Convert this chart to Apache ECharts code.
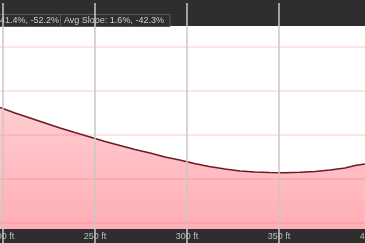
<!DOCTYPE html>
<html><head><meta charset="utf-8">
<script src="https://cdn.jsdelivr.net/npm/echarts@6/dist/echarts.min.js"></script>
<style>html,body{margin:0;padding:0;background:#fff}#c{width:365px;height:243px}</style>
</head><body><div id="c"></div>
<script>
const distances = [198.4,206.5,214.7,222.8,231,239,247.3,255.4,263.6,271.7,279.9,288,296,304,312,320.7,328.8,337,345,353,361.4,369.6,377.7,385.9,391.3,396.7];
const elevations = [159.5,154,149,144,139,134.5,130,125.5,121.5,117.5,114,110,107,103.5,100.5,98,96,95,94.5,94.3,94.7,95.5,97,99,101.5,103];
const xTicks = [150,200,250,300,350,400];
const gradeText = '41.4%, -52.2%';
const slopeText = 'Avg Slope: 1.6%, -42.3%';

const chart = echarts.init(document.getElementById('c'), null, {renderer:'canvas'});
chart.setOption({
  animation:false,
  grid:{left:-89, right:-6, top:3, bottom:-24, containLabel:false, outerBoundsMode:'none'},
  xAxis:{type:'value', min:xTicks[0], max:xTicks[xTicks.length-1], interval:50, offset:-38, z:10,
    axisLine:{show:false}, axisTick:{show:false},
    axisLabel:{color:'#bdbdbd', fontSize:9, margin:3, fontFamily:'Liberation Sans, Arial, sans-serif', formatter:v=>v+' ft'},
    splitLine:{show:true, lineStyle:{color:'#c8c8c8', width:1.5}}},
  yAxis:{type:'value', min:0, max:264, interval:44,
    axisLine:{show:false}, axisTick:{show:false}, axisLabel:{show:false},
    splitLine:{show:true, lineStyle:{color:'#f8dcdc', width:1.5}}},
  series:[{type:'line', data:distances.map((d,i)=>[d,elevations[i]]), symbol:'none', clip:false,
    lineStyle:{color:'#6e1a26', width:1.6},
    areaStyle:{opacity:1, color:new echarts.graphic.LinearGradient(0,0,0,1,[
      {offset:0,color:'rgba(255,90,105,0.31)'},{offset:1,color:'rgba(255,90,105,0.55)'}])}}],
  graphic:[
    {type:'rect', z:5, shape:{x:0,y:0,width:365,height:26}, style:{fill:'#2e2e2e'}},
    {type:'rect', z:5, shape:{x:0,y:229,width:365,height:14}, style:{fill:'#2e2e2e'}},
    {type:'rect', z:6, shape:{x:-2,y:14.5,width:172,height:12}, style:{fill:'none', stroke:'#5a5a5a', lineWidth:1}},
    {type:'line', z:6, shape:{x1:60.5,y1:14.5,x2:60.5,y2:26}, style:{stroke:'#5a5a5a', lineWidth:1}},
    {type:'text', z:7, x:0, y:20.5, style:{text:gradeText, fill:'#cfcfcf', fontSize:9, fontFamily:'Liberation Sans, Arial, sans-serif', verticalAlign:'middle', align:'left'}},
    {type:'text', z:7, x:64, y:20.5, style:{text:slopeText, fill:'#cfcfcf', fontSize:9, fontFamily:'Liberation Sans, Arial, sans-serif', verticalAlign:'middle', align:'left'}}
  ]
});
</script></body></html>
